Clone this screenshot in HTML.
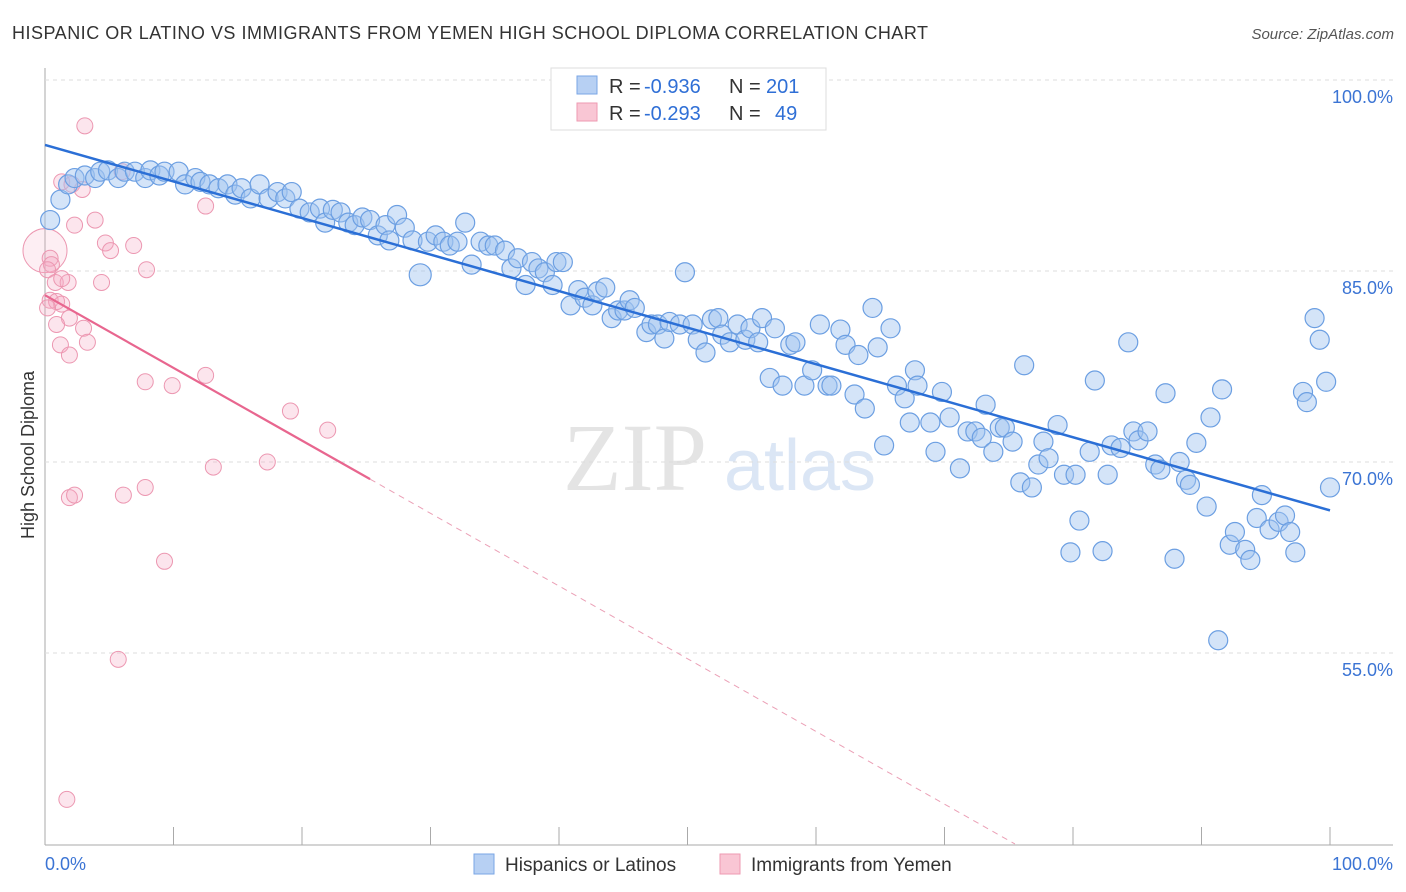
<!DOCTYPE html>
<html><head><meta charset="utf-8"><style>
body{margin:0;background:#fff;font-family:"Liberation Sans",sans-serif;}
svg{display:block}
</style></head><body>
<svg id="chart" width="1406" height="892">
<text x="12" y="39" font-size="18" fill="#333" textLength="916" lengthAdjust="spacing">HISPANIC OR LATINO VS IMMIGRANTS FROM YEMEN HIGH SCHOOL DIPLOMA CORRELATION CHART</text>
<text x="1394" y="39" font-size="15" fill="#555" font-style="italic" text-anchor="end">Source: ZipAtlas.com</text>
<text x="34" y="455" font-size="18" fill="#333" text-anchor="middle" transform="rotate(-90 34 455)">High School Diploma</text>
<g><text x="635" y="490" font-size="96" fill="#e4e4e4" font-family="Liberation Serif,serif" text-anchor="middle">ZIP</text><text x="800" y="490" font-size="72" fill="#dbe6f5" text-anchor="middle">atlas</text></g>
<g id="grid"></g><g id="marks"></g>
<g>
<rect x="551" y="68" width="275" height="62" fill="#fff" stroke="#ddd"/>
<rect x="577" y="76" width="20" height="18" fill="#b7d0f3" stroke="#7aa6e6"/>
<rect x="577" y="103" width="20" height="18" fill="#f9c6d4" stroke="#ee9ab2"/>
<text x="609" y="93" font-size="20" fill="#333">R = </text>
<text x="644" y="93" font-size="20" fill="#2f6fd6">-0.936</text>
<text x="729" y="93" font-size="20" fill="#333">N = </text>
<text x="766" y="93" font-size="20" fill="#2f6fd6">201</text>
<text x="609" y="120" font-size="20" fill="#333">R = </text>
<text x="644" y="120" font-size="20" fill="#2f6fd6">-0.293</text>
<text x="729" y="120" font-size="20" fill="#333">N = </text>
<text x="775" y="120" font-size="20" fill="#2f6fd6">49</text>
</g>
<g>
<rect x="474" y="854" width="20" height="20" fill="#b7d0f3" stroke="#7aa6e6"/>
<text x="505" y="871" font-size="19" fill="#333">Hispanics or Latinos</text>
<rect x="720" y="854" width="20" height="20" fill="#f9c6d4" stroke="#ee9ab2"/>
<text x="751" y="871" font-size="19" fill="#333">Immigrants from Yemen</text>
</g>
</svg>
<script>
const yTicks=[100,85,70,55];
const xTickLabels=["0.0%","100.0%"];
const blueX=[0.4,1.2,1.8,2.3,3.1,3.9,4.3,4.9,5.7,6.2,7.0,7.8,8.2,8.9,9.3,10.4,10.9,11.7,12.1,12.8,13.5,14.2,14.8,15.3,16.0,16.7,17.4,18.1,18.7,19.2,19.8,20.6,21.4,21.8,22.4,23.0,23.6,24.1,24.7,25.3,25.9,26.5,26.8,27.4,28.0,28.6,29.2,29.8,30.4,31.0,31.5,32.1,32.7,33.2,33.9,34.5,35.0,35.8,36.3,36.8,37.4,37.9,38.4,38.9,39.5,39.8,40.3,40.9,41.5,42.0,42.6,43.0,43.6,44.1,44.6,45.1,45.5,45.9,46.8,47.2,47.7,48.2,48.6,49.4,49.8,50.4,50.8,51.4,51.9,52.4,52.7,53.3,53.9,54.5,54.9,55.5,55.8,56.8,56.4,57.4,58.0,58.4,59.1,59.7,60.3,60.9,61.2,61.9,62.3,63.0,63.3,63.8,64.4,64.8,65.3,65.8,66.3,66.9,67.3,67.7,67.9,68.9,69.3,69.8,70.4,71.2,71.8,72.4,72.9,73.2,73.8,74.3,74.7,75.3,75.9,76.2,76.8,77.3,77.7,78.1,78.8,79.3,79.8,80.2,80.5,81.3,81.7,82.3,82.7,83.0,83.7,84.3,84.7,85.1,85.8,86.4,86.8,87.2,87.9,88.3,88.8,89.1,89.6,90.4,90.7,91.3,91.6,92.2,92.6,93.4,93.8,94.3,94.7,95.3,96.0,96.5,96.9,97.3,97.9,98.2,98.8,99.2,99.7,100.0];
const blueY=[89.0,90.6,91.8,92.3,92.5,92.3,92.8,92.9,92.3,92.8,92.8,92.3,92.9,92.5,92.8,92.8,91.8,92.3,92.0,91.8,91.5,91.8,91.0,91.5,90.7,91.8,90.7,91.2,90.7,91.2,89.9,89.6,89.9,88.8,89.8,89.6,88.8,88.6,89.2,89.0,87.8,88.6,87.4,89.4,88.4,87.4,84.7,87.3,87.8,87.3,87.0,87.3,88.8,85.5,87.3,87.0,87.0,86.6,85.2,86.0,83.9,85.7,85.2,84.9,83.9,85.7,85.7,82.3,83.5,82.9,82.3,83.4,83.7,81.3,81.9,81.9,82.7,82.1,80.2,80.8,80.8,79.7,81.0,80.8,84.9,80.8,79.6,78.6,81.2,81.3,80.0,79.4,80.8,79.6,80.5,79.4,81.3,80.5,76.6,76.0,79.2,79.4,76.0,77.2,80.8,76.0,76.0,80.4,79.2,75.3,78.4,74.2,82.1,79.0,71.3,80.5,76.0,75.0,73.1,77.2,76.0,73.1,70.8,75.5,73.5,69.5,72.4,72.4,71.9,74.5,70.8,72.7,72.7,71.6,68.4,77.6,68.0,69.8,71.6,70.3,72.9,69.0,62.9,69.0,65.4,70.8,76.4,63.0,69.0,71.3,71.1,79.4,72.4,71.7,72.4,69.8,69.4,75.4,62.4,70.0,68.6,68.2,71.5,66.5,73.5,56.0,75.7,63.5,64.5,63.1,62.3,65.6,67.4,64.7,65.3,65.8,64.5,62.9,75.5,74.7,81.3,79.6,76.3,68.0];
const pinkX=[3.1,1.3,2.1,2.9,2.3,3.9,12.5,4.7,5.1,6.9,7.9,0,0.4,0.5,0.2,0.8,1.8,1.3,4.4,0.4,0.9,1.3,0.2,1.9,0.9,3.0,3.3,1.2,1.9,12.5,7.8,9.9,19.1,22.0,13.1,17.3,7.8,6.1,1.9,2.3,9.3,5.7,1.7,6.0];
const pinkY=[96.4,92.0,91.8,91.4,88.6,89.0,90.1,87.2,86.6,87.0,85.1,86.6,86.0,85.5,85.1,84.1,84.1,84.4,84.1,82.7,82.6,82.4,82.1,81.3,80.8,80.5,79.4,79.2,78.4,76.8,76.3,76.0,74.0,72.5,69.6,70.0,68.0,67.4,67.2,67.4,62.2,54.5,43.5,92.8];
const blueTrend=[94.9,66.2];
const pinkTrend=[83.1,-0.571];
const NS='http://www.w3.org/2000/svg';
const X=v=>45+v*12.85, Y=v=>80+(100-v)*12.733;
function mk(p,t,a){const e=document.createElementNS(NS,t);for(const k in a)e.setAttribute(k,a[k]);p.appendChild(e);return e;}
const grid=document.getElementById('grid'),marks=document.getElementById('marks');
mk(grid,'line',{x1:45,y1:68,x2:45,y2:845,stroke:'#aaa'});
mk(grid,'line',{x1:45,y1:845,x2:1393,y2:845,stroke:'#aaa'});
for(let i=0;i<=10;i++){mk(grid,'line',{x1:X(i*10),y1:845,x2:X(i*10),y2:827,stroke:'#aaa'});}
yTicks.forEach(v=>{
 const l=mk(grid,'line',{x1:45,y1:Y(v),x2:1393,y2:Y(v),stroke:'#ddd','stroke-dasharray':'4,4'});
 
 
 const t=mk(grid,'text',{x:1393,y:Y(v)+23,'font-size':18,fill:'#3b74d4','text-anchor':'end'});t.textContent=v.toFixed(1)+'%';
 
 
});
xTickLabels.forEach((s,i)=>{const t=mk(grid,'text',{x:i?1393:45,y:870,'font-size':18,fill:'#3b74d4','text-anchor':i?'end':'start'});t.textContent=s;
 
 });
pinkX.forEach((x,i)=>{const c=mk(marks,'circle',{cx:X(x),cy:Y(pinkY[i]),r:i==11?22:8,fill:i==11?'rgba(246,170,194,0.2)':'rgba(246,170,194,0.3)',stroke:'#ec97b1','stroke-width':1});
 
 });
blueX.forEach((x,i)=>{const c=mk(marks,'circle',{cx:X(x),cy:Y(blueY[i]),r:i==46?11:9.5,fill:'rgba(160,196,240,0.45)',stroke:'#6c9fe2','stroke-width':1.2});
 
 });
const bl=mk(marks,'line',{x1:X(0),y1:Y(blueTrend[0]),x2:X(100),y2:Y(blueTrend[1]),stroke:'#2b6fd6','stroke-width':2.5});


const pEnd=25.3, pMax=(40-pinkTrend[0])/pinkTrend[1];
const pl=mk(marks,'line',{x1:X(0),y1:Y(pinkTrend[0]),x2:X(pEnd),y2:Y(pinkTrend[0]+pinkTrend[1]*pEnd),stroke:'#e8668f','stroke-width':2.2});


const pd=mk(marks,'line',{x1:X(pEnd),y1:Y(pinkTrend[0]+pinkTrend[1]*pEnd),x2:X(pMax),y2:Y(40),stroke:'#eba0b6','stroke-width':1,'stroke-dasharray':'6,5'});


</script>
</body></html>
